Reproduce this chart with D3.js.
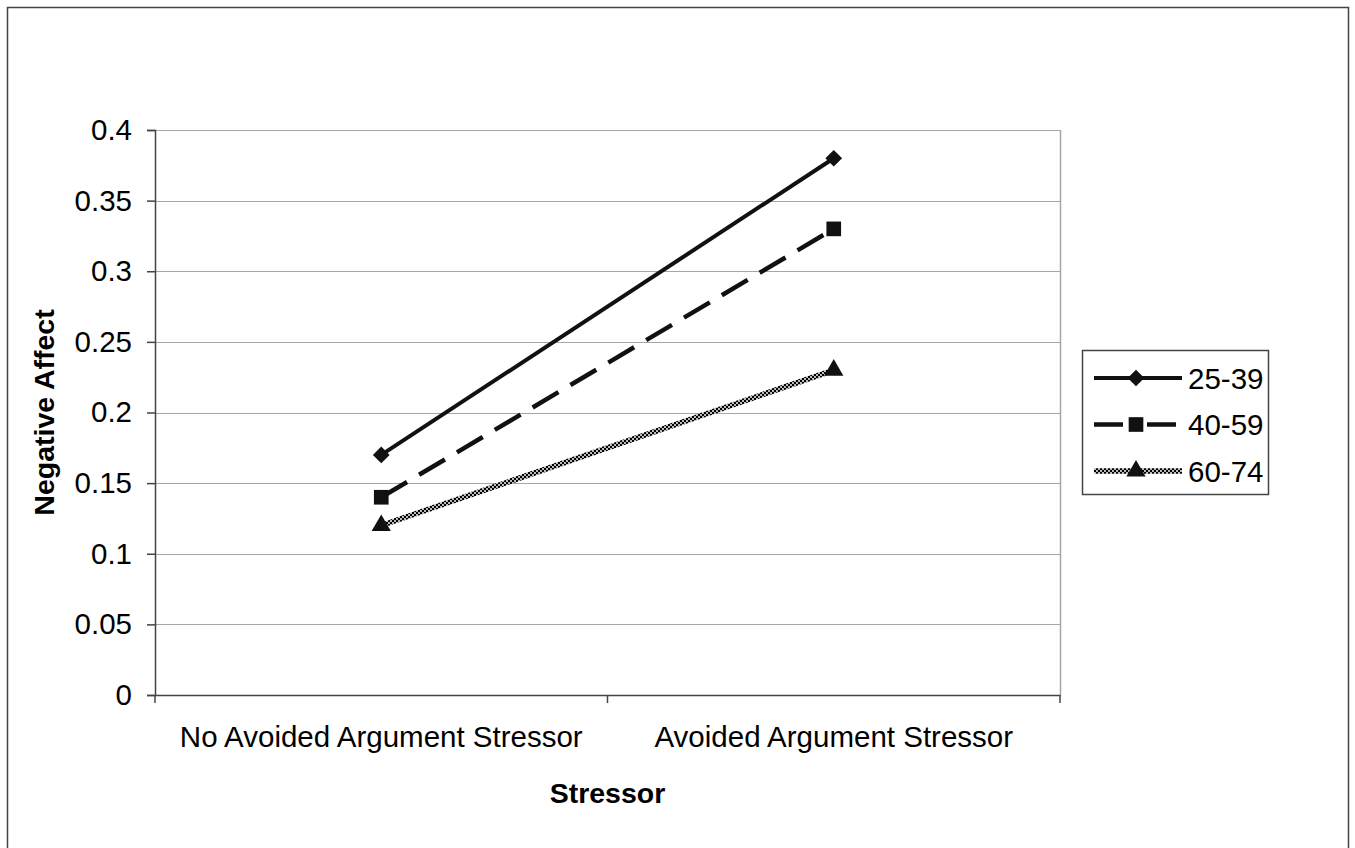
<!DOCTYPE html>
<html>
<head>
<meta charset="utf-8">
<script src="https://cdn.jsdelivr.net/npm/d3@7"></script>
<style>
  body { margin: 0; background: #fff; }
  svg { display: block; font-family: "Liberation Sans", Arial, sans-serif; }
</style>
</head>
<body>
<div class="viz"></div>
<script>
// chart data
const categories = ["No Avoided Argument Stressor", "Avoided Argument Stressor"];
const seriesNames = ["25-39", "40-59", "60-74"];
const values2539 = [0.17, 0.38];
const values4059 = [0.14, 0.33];
const values6074 = [0.12, 0.23];
const yTicks = [0, 0.05, 0.1, 0.15, 0.2, 0.25, 0.3, 0.35, 0.4];

const width = 1355, height = 848;
const plot = { left: 155, top: 130, right: 1060, bottom: 695 };
const fontSize = 29.5;

const svg = d3.select(".viz")
  .append("svg")
  .attr("width", width)
  .attr("height", height);

// checker pattern for the 60-74 line
const defs = svg.append("defs");
const pat = defs.append("pattern")
  .attr("id", "checker")
  .attr("patternUnits", "userSpaceOnUse")
  .attr("width", 4)
  .attr("height", 4);
pat.append("rect").attr("width", 4).attr("height", 4).attr("fill", "#bbb");
pat.append("rect").attr("width", 2).attr("height", 2).attr("fill", "#000");
pat.append("rect").attr("x", 2).attr("y", 2).attr("width", 2).attr("height", 2).attr("fill", "#000");

// outer frame
svg.append("rect")
  .attr("x", 7.5).attr("y", 7.5)
  .attr("width", 1341).attr("height", 860)
  .attr("fill", "none")
  .attr("stroke", "#444")
  .attr("stroke-width", 1.5);

const x = d3.scaleBand()
  .domain(categories)
  .range([plot.left, plot.right]);

const y = d3.scaleLinear()
  .domain([0, 0.4])
  .range([plot.bottom, plot.top]);

// gridlines
svg.append("g")
  .selectAll("line")
  .data(yTicks.filter(d => d > 0))
  .join("line")
  .attr("x1", plot.left).attr("x2", plot.right)
  .attr("y1", d => Math.round(y(d)) + 0.5)
  .attr("y2", d => Math.round(y(d)) + 0.5)
  .attr("stroke", "#a6a6a6")
  .attr("stroke-width", 1.2);

// plot border right
svg.append("line")
  .attr("x1", plot.right + 0.5).attr("x2", plot.right + 0.5)
  .attr("y1", plot.top).attr("y2", plot.bottom)
  .attr("stroke", "#a6a6a6")
  .attr("stroke-width", 1.5);

// y axis
const yAxis = svg.append("g")
  .attr("transform", `translate(${plot.left}, 0)`)
  .call(d3.axisLeft(y).tickValues(yTicks).tickSize(8).tickPadding(15)
    .tickFormat(d => d === 0 ? "0" : String(+d.toFixed(2))));
yAxis.select(".domain").attr("stroke", "#444").attr("stroke-width", 1.5);
yAxis.selectAll(".tick line").attr("stroke", "#444").attr("stroke-width", 1.5);
yAxis.selectAll("text").attr("font-size", fontSize).attr("fill", "#000")
  .attr("font-family", "Liberation Sans, Arial, sans-serif");

// x axis
const xAxis = svg.append("g")
  .attr("transform", `translate(0, ${plot.bottom})`)
  .call(d3.axisBottom(x).tickSize(0).tickPadding(31));
xAxis.select(".domain").attr("stroke", "#444").attr("stroke-width", 1.5);
xAxis.selectAll("text").attr("font-size", fontSize).attr("fill", "#000")
  .attr("font-family", "Liberation Sans, Arial, sans-serif");

// x ticks at the band edges
svg.append("g")
  .selectAll("line")
  .data(categories.map(c => x(c)).concat([x(categories[1]) + x.bandwidth()]))
  .join("line")
  .attr("x1", d => d).attr("x2", d => d)
  .attr("y1", plot.bottom).attr("y2", plot.bottom + 8)
  .attr("stroke", "#444")
  .attr("stroke-width", 1.5);

// axis titles
svg.append("text")
  .attr("transform", `translate(54, ${(plot.top + plot.bottom) / 2}) rotate(-90)`)
  .attr("text-anchor", "middle")
  .attr("font-size", 28.5)
  .attr("font-weight", "bold")
  .text("Negative Affect");

svg.append("text")
  .attr("x", (plot.left + plot.right) / 2)
  .attr("y", 803)
  .attr("text-anchor", "middle")
  .attr("font-size", 28.5)
  .attr("font-weight", "bold")
  .text("Stressor");

// series
const series = [
  { name: seriesNames[0], values: values2539, stroke: "#111", dash: null, legendDash: null, width: 4, marker: "diamond" },
  { name: seriesNames[1], values: values4059, stroke: "#111", dash: "30,14", legendDash: "29,24", width: 4.5, marker: "square" },
  { name: seriesNames[2], values: values6074, stroke: "url(#checker)", dash: null, legendDash: null, width: 5.5, marker: "triangle" }
];

const symbolPath = {
  diamond: d3.symbol().type(d3.symbolSquare).size(140)(),
  square: d3.symbol().type(d3.symbolSquare).size(215)(),
  triangle: d3.symbol().type(d3.symbolTriangle).size(160)()
};
const symbolRotate = { diamond: 45, square: 0, triangle: 0 };

const line = d3.line()
  .x((d, i) => x(categories[i]) + x.bandwidth() / 2)
  .y(d => y(d));

series.forEach(s => {
  svg.append("path")
    .datum(s.values)
    .attr("d", line)
    .attr("fill", "none")
    .attr("stroke", s.stroke)
    .attr("stroke-width", s.width)
    .attr("stroke-dasharray", s.dash);

  svg.append("g")
    .selectAll("path")
    .data(s.values)
    .join("path")
    .attr("transform", (d, i) =>
      `translate(${x(categories[i]) + x.bandwidth() / 2},${y(d)}) rotate(${symbolRotate[s.marker]})`)
    .attr("d", symbolPath[s.marker])
    .attr("fill", "#111");
});

// legend
const legend = svg.append("g");
legend.append("rect")
  .attr("x", 1082.5).attr("y", 350.5)
  .attr("width", 186).attr("height", 144)
  .attr("fill", "#fff")
  .attr("stroke", "#444")
  .attr("stroke-width", 1.5);

const legendY = d3.scalePoint()
  .domain(seriesNames)
  .range([378, 471]);

series.forEach(s => {
  const ly = legendY(s.name);
  legend.append("line")
    .attr("x1", 1094).attr("x2", s.legendDash ? 1176 : 1182)
    .attr("y1", ly).attr("y2", ly)
    .attr("stroke", s.stroke)
    .attr("stroke-width", s.width)
    .attr("stroke-dasharray", s.legendDash);
  legend.append("path")
    .attr("transform", `translate(1136,${ly}) rotate(${symbolRotate[s.marker]})`)
    .attr("d", symbolPath[s.marker])
    .attr("fill", "#111");
  legend.append("text")
    .attr("x", 1188)
    .attr("y", ly)
    .attr("dy", "0.36em")
    .attr("font-size", fontSize)
    .text(s.name);
});
</script>
</body>
</html>
